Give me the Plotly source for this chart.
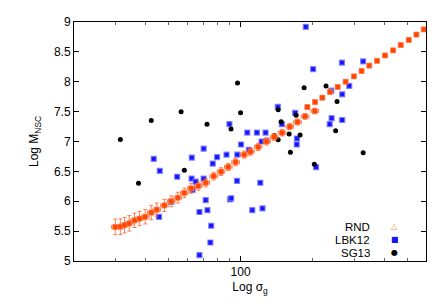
import numpy as np
import plotly.graph_objects as go

# ---------------- data ----------------
rnd_sigma = [29.8, 31.3, 32.6, 34.1, 35.9, 37.7, 39.8, 42.2, 44.5, 47.9,
             51.2, 54.5, 58.1, 62.0, 66.5, 71.4, 77.1, 82.8, 88.8, 95.3,
             103.6, 110.1, 118.6, 128.5, 138.4, 149.4, 160.9, 173.3, 186.6, 204.8,
             190.7, 205.4, 220.4, 237.4, 255.6, 276.0, 299.0, 322.0, 346.7, 374.0,
             404.0, 436.7, 470.0, 508.0, 547.0, 587.0]
rnd_mass = [5.57, 5.575, 5.60, 5.63, 5.68, 5.71, 5.74, 5.81, 5.86, 5.93,
            6.00, 6.06, 6.14, 6.215, 6.255, 6.31, 6.42, 6.495, 6.573, 6.654,
            6.78, 6.83, 6.91, 7.00, 7.075, 7.147, 7.248, 7.326, 7.42, 7.51,
            7.577, 7.66, 7.733, 7.83, 7.912, 8.00, 8.09, 8.18, 8.27, 8.35,
            8.44, 8.525, 8.615, 8.70, 8.79, 8.876]
rnd_mass_err = [0.13, 0.13, 0.13, 0.13, 0.12, 0.12, 0.12, 0.12, 0.11, 0.10,
                0.09, 0.09, 0.08, 0.08, 0.07, 0.07, 0.065, 0.065, 0.06, 0.06,
                0.06, 0.06, 0.06, 0.06, 0.055, 0.055, 0.05, 0.05, 0.047, 0.047,
                0.03, 0.03, 0.03, 0.03, 0.03, 0.03, 0.03, 0.03, 0.03, 0.03,
                0.03, 0.03, 0.03, 0.03, 0.03, 0.03]
rnd_sigma_err_dex = [0.016] * 30 + [0.004] * 16

lbk_sigma = [43.2, 45.8, 45.5, 51.2, 54.2, 62.4, 62.3, 64.8, 62.9, 67.2,
             67.2, 70.0, 70.0, 71.4, 72.6, 74.7, 75.3, 76.4, 79.7, 87.3,
             89.8, 90.3, 91.4, 96.6, 96.9, 100.5, 106.7, 108.3, 112.0, 117.1,
             121.0, 122.5, 123.6, 127.3, 128.5, 143.3, 149.0, 169.5, 172.5, 172.0,
             187.8, 201.6, 207.4, 236.6, 240.3, 241.0, 266.4, 267.1, 267.0, 285.8,
             327.0]
lbk_mass = [6.71, 6.51, 5.74, 5.99, 6.41, 6.73, 6.38, 6.33, 6.19, 5.82,
            5.10, 6.88, 6.38, 6.02, 5.85, 5.31, 5.59, 6.63, 6.74, 6.78,
            7.29, 6.03, 6.05, 6.34, 6.78, 6.95, 7.15, 6.86, 5.85, 7.15,
            6.31, 7.00, 5.88, 7.15, 7.01, 7.58, 7.29, 7.48, 7.05, 6.95,
            8.92, 8.21, 6.57, 7.29, 7.85, 7.39, 8.32, 7.79, 7.36, 7.93,
            8.34]

sg_sigma = [20.0, 31.3, 37.3, 42.2, 56.3, 58.1, 72.3, 91.2, 97.1, 100.0,
            138.8, 143.8, 143.8, 148.0, 159.9, 161.9, 171.0, 177.7, 184.8, 204.0,
            228.3, 250.6, 254.0, 327.0]
sg_mass = [6.14, 7.035, 6.30, 7.35, 7.50, 6.52, 7.29, 7.21, 7.98, 7.48,
           7.10, 7.03, 7.53, 7.33, 7.125, 6.82, 7.44, 7.11, 7.90, 6.62,
           7.93, 7.18, 7.67, 6.81]

x_major = [100]
x_minor = [30, 40, 50, 60, 70, 80, 90, 200, 300, 400, 500]
legend_names = ["RND", "LBK12", "SG13"]

# ---------------- figure ----------------
FONT = "Liberation Sans, Arial, sans-serif"
rs = np.array(rnd_sigma)
rd = np.array(rnd_sigma_err_dex)
err_plus = rs * (10 ** rd - 1)
err_minus = rs * (1 - 10 ** (-rd))

fig = go.Figure()

fig.add_trace(go.Scatter(
    x=lbk_sigma, y=lbk_mass, mode="markers", name="LBK12",
    marker=dict(symbol="square", size=5, color="#1414ff",
                line=dict(width=1.2, color="rgba(120,120,255,0.85)")),
    showlegend=False, cliponaxis=False))

fig.add_trace(go.Scatter(
    x=sg_sigma, y=sg_mass, mode="markers", name="SG13",
    marker=dict(symbol="circle", size=5, color="black"),
    showlegend=False, cliponaxis=False))

fig.add_trace(go.Scatter(
    x=rnd_sigma, y=rnd_mass, mode="markers", name="RND",
    marker=dict(symbol="square", size=5, color="#ff4500",
                line=dict(width=1, color="rgba(255,120,70,0.8)")),
    error_y=dict(type="data", array=rnd_mass_err, color="rgba(255,90,30,0.75)",
                 thickness=1, width=2),
    error_x=dict(type="data", array=list(err_plus), arrayminus=list(err_minus),
                 color="rgba(255,90,30,0.75)", thickness=1, width=2),
    showlegend=False, cliponaxis=False))

# legend (gnuplot style: text then symbol)
leg_y = [0.146, 0.09, 0.034]
leg_sym = ["△", "■", "●"]
leg_col = ["#ff9060", "#1414ff", "black"]
leg_size = [8, 8, 8]
for name, yy, s, c, sz in zip(legend_names, leg_y, leg_sym, leg_col, leg_size):
    fig.add_annotation(xref="paper", yref="paper", x=0.845, y=yy, text=name,
                       showarrow=False, xanchor="right", yanchor="middle",
                       height=11, borderpad=0, valign="middle",
                       font=dict(family=FONT, size=11.5, color="black"))
    fig.add_annotation(xref="paper", yref="paper", x=0.911, y=yy, text=s,
                       showarrow=False, xanchor="center", yanchor="middle",
                       height=9, borderpad=0,
                       font=dict(family="DejaVu Sans", size=sz, color=c))

fig.update_layout(
    width=436, height=305,
    margin=dict(l=66, r=18, t=14, b=52),
    paper_bgcolor="white", plot_bgcolor="white",
    font=dict(family=FONT, size=12, color="black"),
    showlegend=False,
    xaxis=dict(
        type="log", range=[np.log10(20), np.log10(600)],
        tickvals=x_major, ticktext=[str(v) for v in x_major],
        ticks="inside", ticklen=5, tickcolor="black",
        minor=dict(tickvals=x_minor, ticks="inside", ticklen=3, tickcolor="#666"),
        showline=True, linecolor="black", linewidth=1, mirror="allticks",
        showgrid=False, zeroline=False,
        title=dict(text="Log σ<sub>g</sub>", standoff=4,
                   font=dict(family=FONT, size=12)),
        automargin=False,
    ),
    yaxis=dict(
        range=[5, 9], dtick=0.5, tick0=5,
        ticks="inside", ticklen=5, tickcolor="black",
        showline=True, linecolor="black", linewidth=1, mirror="allticks",
        showgrid=False, zeroline=False,
        title=dict(text="Log M<sub>NSC</sub>", standoff=12,
                   font=dict(family=FONT, size=12)),
        automargin=False,
    ),
)

fig.write_html("out.html")
